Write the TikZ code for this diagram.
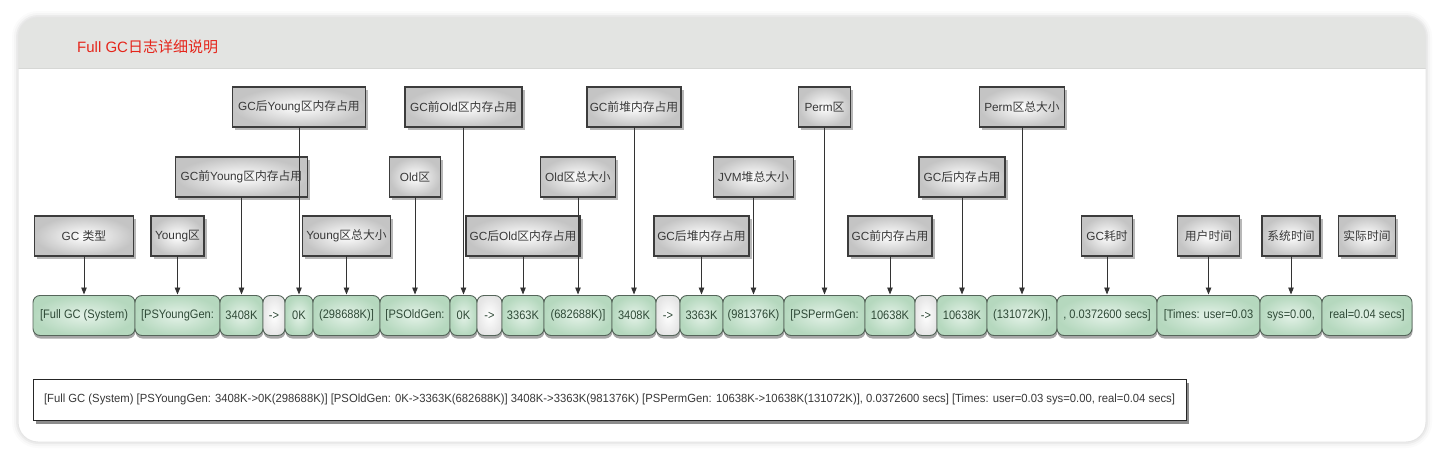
\documentclass[tikz,border=0pt]{standalone}
\usepackage{fontspec}
\usepackage{graphicx}
\setmainfont{Liberation Sans}
\newfontfamily\cjkf{Noto Sans CJK SC}
\usetikzlibrary{arrows.meta,shadows}
\newcommand\zh[1]{{\cjkf #1}}
\newcommand\sq[1]{\scalebox{0.9}[1]{#1}}
\definecolor{hdr}{HTML}{E3E4E2}
\definecolor{hdrline}{HTML}{D6D7D5}
\definecolor{titlered}{HTML}{E5251B}
\definecolor{sborder}{HTML}{55655A}
\definecolor{sin}{HTML}{E4F2E8}
\definecolor{sout}{HTML}{B5D8BE}
\definecolor{stext}{HTML}{2F4A37}
\definecolor{lborder}{HTML}{3C3C3C}
\definecolor{lout}{HTML}{C4C4C4}
\definecolor{ltext}{HTML}{383838}
\definecolor{aline}{HTML}{333333}
\begin{document}
\begin{tikzpicture}[x=1pt,y=-1pt,
  sbox/.style={draw=sborder, line width=0.9pt, rounded corners=7pt,
    minimum height=40pt, inner sep=0pt, outer sep=0pt,
    inner color=sin, outer color=sout, text=stext,
    font=\fontsize{12.3}{14}\selectfont, anchor=west,
    drop shadow={shadow xshift=0.5pt, shadow yshift=-3pt, opacity=0.35, fill=black}},
  wbox/.style={sbox, inner color=white, outer color=black!10},
  lbox/.style={draw=lborder, line width=1.3pt, minimum height=40pt,
    inner sep=0pt, outer sep=0pt, inner color=white, outer color=lout,
    text=ltext, font=\fontsize{11.8}{14}\selectfont,
    drop shadow={shadow xshift=2.5pt, shadow yshift=-3pt, opacity=0.28, fill=black}},
  arr/.style={draw=aline, line width=0.9pt, -{Triangle[length=7pt,width=5.5pt]}, shorten >=1pt},
  bbox/.style={draw=black!85, line width=1pt, fill=white, minimum height=41pt,
    inner ysep=0pt, inner xsep=11pt, outer sep=0pt, text=ltext,
    font=\fontsize{11.8}{14}\selectfont,
    drop shadow={shadow xshift=3pt, shadow yshift=-4pt, opacity=0.45, fill=black}}
]
\useasboundingbox (0,0) rectangle (1444,463);
% card halo
\fill[black,opacity=0.015,rounded corners=26pt] (12,11) rectangle (1432,448);
\fill[black,opacity=0.025,rounded corners=24pt] (14,13) rectangle (1430,446);
\fill[black,opacity=0.04,rounded corners=22pt] (16,15) rectangle (1428,444);
% card
\fill[white,rounded corners=20pt] (18,17) rectangle (1426,442);
\begin{scope}
  \clip[rounded corners=20pt] (18,17) rectangle (1426,442);
  \fill[hdr] (18,17) rectangle (1426,68);
  \draw[hdrline,line width=1pt] (18,68) -- (1426,68);
\end{scope}
\draw[black!10,line width=1pt,rounded corners=20pt] (18,17) rectangle (1426,442);
\node[anchor=west, text=titlered, font=\fontsize{15}{18}\selectfont, inner sep=0pt] (title) at (77,47) {Full GC\zh{日志详细说明}};

% row coordinates
\coordinate (r1) at (0,107);
\coordinate (r2) at (0,177);
\coordinate (r3) at (0,236);

% strip
\node[sbox, minimum width=102pt] (s1) at (33,315.5) {\sq{[Full GC (System)}};
\node[sbox, minimum width=85pt] (s2) at (s1.east) {\sq{[PSYoungGen:}};
\node[sbox, minimum width=43pt] (s3) at (s2.east) {\sq{3408K}};
\node[wbox, minimum width=22pt] (s4) at (s3.east) {\sq{->}};
\node[sbox, minimum width=28pt] (s5) at (s4.east) {\sq{0K}};
\node[sbox, minimum width=67pt] (s6) at (s5.east) {\sq{(298688K)]}};
\node[sbox, minimum width=70pt] (s7) at (s6.east) {\sq{[PSOldGen:}};
\node[sbox, minimum width=27pt] (s8) at (s7.east) {\sq{0K}};
\node[wbox, minimum width=25pt] (s9) at (s8.east) {\sq{->}};
\node[sbox, minimum width=42pt] (s10) at (s9.east) {\sq{3363K}};
\node[sbox, minimum width=68pt] (s11) at (s10.east) {\sq{(682688K)]}};
\node[sbox, minimum width=44pt] (s12) at (s11.east) {\sq{3408K}};
\node[wbox, minimum width=24pt] (s13) at (s12.east) {\sq{->}};
\node[sbox, minimum width=43pt] (s14) at (s13.east) {\sq{3363K}};
\node[sbox, minimum width=61pt] (s15) at (s14.east) {\sq{(981376K)}};
\node[sbox, minimum width=81pt] (s16) at (s15.east) {\sq{[PSPermGen:}};
\node[sbox, minimum width=50pt] (s17) at (s16.east) {\sq{10638K}};
\node[wbox, minimum width=22pt] (s18) at (s17.east) {\sq{->}};
\node[sbox, minimum width=50pt] (s19) at (s18.east) {\sq{10638K}};
\node[sbox, minimum width=70pt] (s20) at (s19.east) {\sq{(131072K)],}};
\node[sbox, minimum width=100pt] (s21) at (s20.east) {\sq{, 0.0372600 secs]}};
\node[sbox, minimum width=103pt] (s22) at (s21.east) {\sq{[Times: user=0.03}};
\node[sbox, minimum width=62pt] (s23) at (s22.east) {\sq{sys=0.00,}};
\node[sbox, minimum width=90pt] (s24) at (s23.east) {\sq{real=0.04 secs]}};

% labels
\node[lbox, minimum width=99pt] (l1) at (s1 |- r3) {GC \zh{类型}};
\node[lbox, minimum width=53pt] (l2) at (s2 |- r3) {Young\zh{区}};
\node[lbox, minimum width=132pt] (l3) at (s3 |- r2) {GC\zh{前}Young\zh{区内存占用}};
\node[lbox, minimum width=133pt] (l4) at (s5 |- r1) {GC\zh{后}Young\zh{区内存占用}};
\node[lbox, minimum width=88pt] (l5) at (s6 |- r3) {Young\zh{区总大小}};
\node[lbox, minimum width=51pt] (l6) at (s7 |- r2) {Old\zh{区}};
\node[lbox, minimum width=117pt] (l7) at (s8 |- r1) {GC\zh{前}Old\zh{区内存占用}};
\node[lbox, minimum width=114pt] (l8) at (s10 |- r3) {GC\zh{后}Old\zh{区内存占用}};
\node[lbox, minimum width=75pt] (l9) at (s11 |- r2) {Old\zh{区总大小}};
\node[lbox, minimum width=94pt] (l10) at (s12 |- r1) {GC\zh{前堆内存占用}};
\node[lbox, minimum width=95pt] (l11) at (s14 |- r3) {GC\zh{后堆内存占用}};
\node[lbox, minimum width=80pt] (l12) at (s15 |- r2) {JVM\zh{堆总大小}};
\node[lbox, minimum width=52pt] (l13) at (s16 |- r1) {Perm\zh{区}};
\node[lbox, minimum width=84pt] (l14) at (s17 |- r3) {GC\zh{前内存占用}};
\node[lbox, minimum width=86pt] (l15) at (s19 |- r2) {GC\zh{后内存占用}};
\node[lbox, minimum width=85pt] (l16) at (s20 |- r1) {Perm\zh{区总大小}};
\node[lbox, minimum width=51pt] (l17) at (s21 |- r3) {GC\zh{耗时}};
\node[lbox, minimum width=62pt] (l18) at (s22 |- r3) {\zh{用户时间}};
\node[lbox, minimum width=58pt] (l19) at (s23 |- r3) {\zh{系统时间}};
\node[lbox, minimum width=57pt] (l20) at (s24 |- r3) {\zh{实际时间}};

% arrows
\draw[arr] (l1) -- (s1);
\draw[arr] (l2) -- (s2);
\draw[arr] (l3) -- (s3);
\draw[arr] (l4) -- (s5);
\draw[arr] (l5) -- (s6);
\draw[arr] (l6) -- (s7);
\draw[arr] (l7) -- (s8);
\draw[arr] (l8) -- (s10);
\draw[arr] (l9) -- (s11);
\draw[arr] (l10) -- (s12);
\draw[arr] (l11) -- (s14);
\draw[arr] (l12) -- (s15);
\draw[arr] (l13) -- (s16);
\draw[arr] (l14) -- (s17);
\draw[arr] (l15) -- (s19);
\draw[arr] (l16) -- (s20);
\draw[arr] (l17) -- (s21);
\draw[arr] (l18) -- (s22);
\draw[arr] (l19) -- (s23);

% bottom log line
\node[bbox, anchor=west] (log) at (33,399.5) {\resizebox{1131pt}{\height}{[Full GC (System) [PSYoungGen: 3408K->0K(298688K)] [PSOldGen: 0K->3363K(682688K)] 3408K->3363K(981376K) [PSPermGen: 10638K->10638K(131072K)], 0.0372600 secs] [Times: user=0.03 sys=0.00, real=0.04 secs]}};
\end{tikzpicture}
\end{document}
